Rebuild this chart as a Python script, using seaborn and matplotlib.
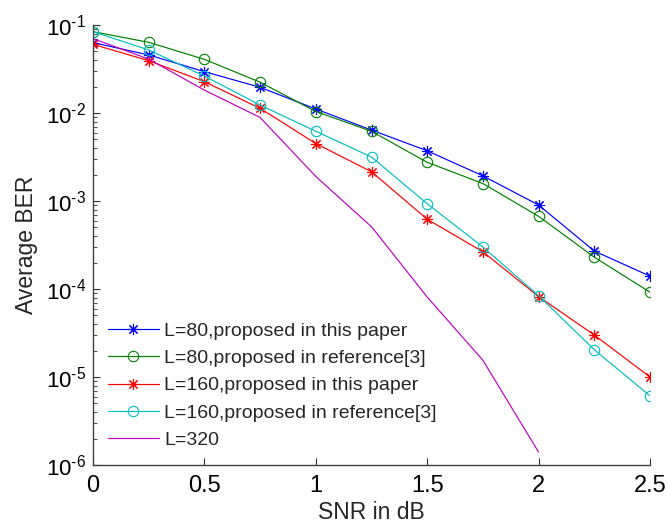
import numpy as np
import pandas as pd
import matplotlib
matplotlib.use("Agg")
import matplotlib.pyplot as plt
from matplotlib.ticker import LogLocator, FixedLocator, FixedFormatter
import seaborn as sns

snr_db = [0, 0.25, 0.5, 0.75, 1.0, 1.25, 1.5, 1.75, 2.0, 2.25, 2.5]
ber_l80_proposed = [0.063, 0.0457, 0.0295, 0.0196, 0.0111, 0.0064, 0.00372, 0.00193, 9.0e-4, 2.7e-4, 1.4e-4]
ber_l80_ref3 = [0.084, 0.0636, 0.0407, 0.0224, 0.0104, 0.0062, 0.00275, 0.00158, 6.7e-4, 2.3e-4, 9.2e-5]
ber_l160_proposed = [0.0603, 0.0393, 0.0227, 0.0113, 0.0045, 0.00215, 6.2e-4, 2.65e-4, 8.2e-5, 3.0e-5, 1.0e-5]
ber_l160_ref3 = [0.084, 0.052, 0.0263, 0.0123, 0.0062, 0.00316, 9.3e-4, 3.0e-4, 8.4e-5, 2.04e-5, 6.1e-6]
snr_l320 = [0, 0.25, 0.5, 0.75, 1.0, 1.25, 1.5, 1.75, 2.0]
ber_l320 = [0.07, 0.041, 0.0182, 0.0089, 0.0019, 5.1e-4, 8.1e-5, 1.55e-5, 1.4e-6]

x_ticks = [0, 0.5, 1, 1.5, 2, 2.5]
x_ticklabels = ["0", "0.5", "1", "1.5", "2", "2.5"]
y_exponents = [-6, -5, -4, -3, -2, -1]

labels = [
    "L=80,proposed in this paper",
    "L=80,proposed in reference[3]",
    "L=160,proposed in this paper",
    "L=160,proposed in reference[3]",
    "L=320",
]
colors = ["#0000ff", "#008000", "#ff0000", "#00bfbf", "#bf00bf"]
asterisk = (8, 2, 0)
markers = [asterisk, "o", asterisk, "o", None]

series = [
    (snr_db, ber_l80_proposed),
    (snr_db, ber_l80_ref3),
    (snr_db, ber_l160_proposed),
    (snr_db, ber_l160_ref3),
    (snr_l320, ber_l320),
]

sns.set_theme(style="white")
plt.rcParams["font.family"] = ["Liberation Sans", "DejaVu Sans"]
plt.rcParams["mathtext.fontset"] = "custom"
plt.rcParams["mathtext.rm"] = "Liberation Sans"
plt.rcParams["mathtext.it"] = "Liberation Sans:italic"

fig = plt.figure(figsize=(6.67, 5.23), dpi=100)
ax = fig.add_axes([93 / 667, 1 - 465 / 523, (650 - 93) / 667, (465 - 25) / 523])

for (x, y), lab, col, mk in zip(series, labels, colors, markers):
    df = pd.DataFrame({"SNR": x, "BER": y})
    kw = {}
    if mk is not None:
        kw = dict(marker=mk, markersize=7.5 if mk == "o" else 8, markeredgewidth=0.8,
                  markeredgecolor=col,
                  markerfacecolor="none" if mk == "o" else col)
    sns.lineplot(data=df, x="SNR", y="BER", ax=ax, color=col, linewidth=0.85,
                 label=lab, **kw)

ax.set_yscale("log")
ax.set_xlim(0, 2.5)
ax.set_ylim(1e-6, 1e-1)
ax.xaxis.set_major_locator(FixedLocator(x_ticks))
ax.xaxis.set_major_formatter(FixedFormatter(x_ticklabels))
ax.yaxis.set_major_locator(FixedLocator([10.0 ** e for e in y_exponents]))
ax.yaxis.set_major_formatter(FixedFormatter(
    [r"10$^{\text{%d}}$" % e for e in y_exponents]))
ax.yaxis.set_minor_locator(LogLocator(base=10, subs=np.arange(2, 10), numticks=10))

for side in ("top", "right"):
    ax.spines[side].set_visible(False)
for side in ("left", "bottom"):
    ax.spines[side].set_color("#404040")
    ax.spines[side].set_linewidth(1.0)

ax.tick_params(axis="both", which="major", direction="in", length=5, width=0.8,
               color="#303030", labelcolor="black", left=True, bottom=True)
ax.tick_params(axis="x", which="major", pad=7, labelsize=17)
ax.tick_params(axis="y", which="major", pad=5, labelsize=16)
ax.tick_params(axis="y", which="minor", direction="in", length=3, width=0.6,
               color="#303030", left=True)
ax.tick_params(axis="x", which="minor", bottom=False)

ax.set_xlabel("SNR in dB", fontsize=16.5, labelpad=3)
ax.set_ylabel("Average BER", fontsize=16.5)
ax.yaxis.set_label_coords(-0.099, 0.5)

leg = ax.legend(loc="lower left", bbox_to_anchor=(0.027, 0.036), frameon=False,
                fontsize=14, handlelength=2.6, handletextpad=0.3, labelspacing=0.5,
                borderpad=0, borderaxespad=0)

fig.savefig("out.png", dpi=100)
